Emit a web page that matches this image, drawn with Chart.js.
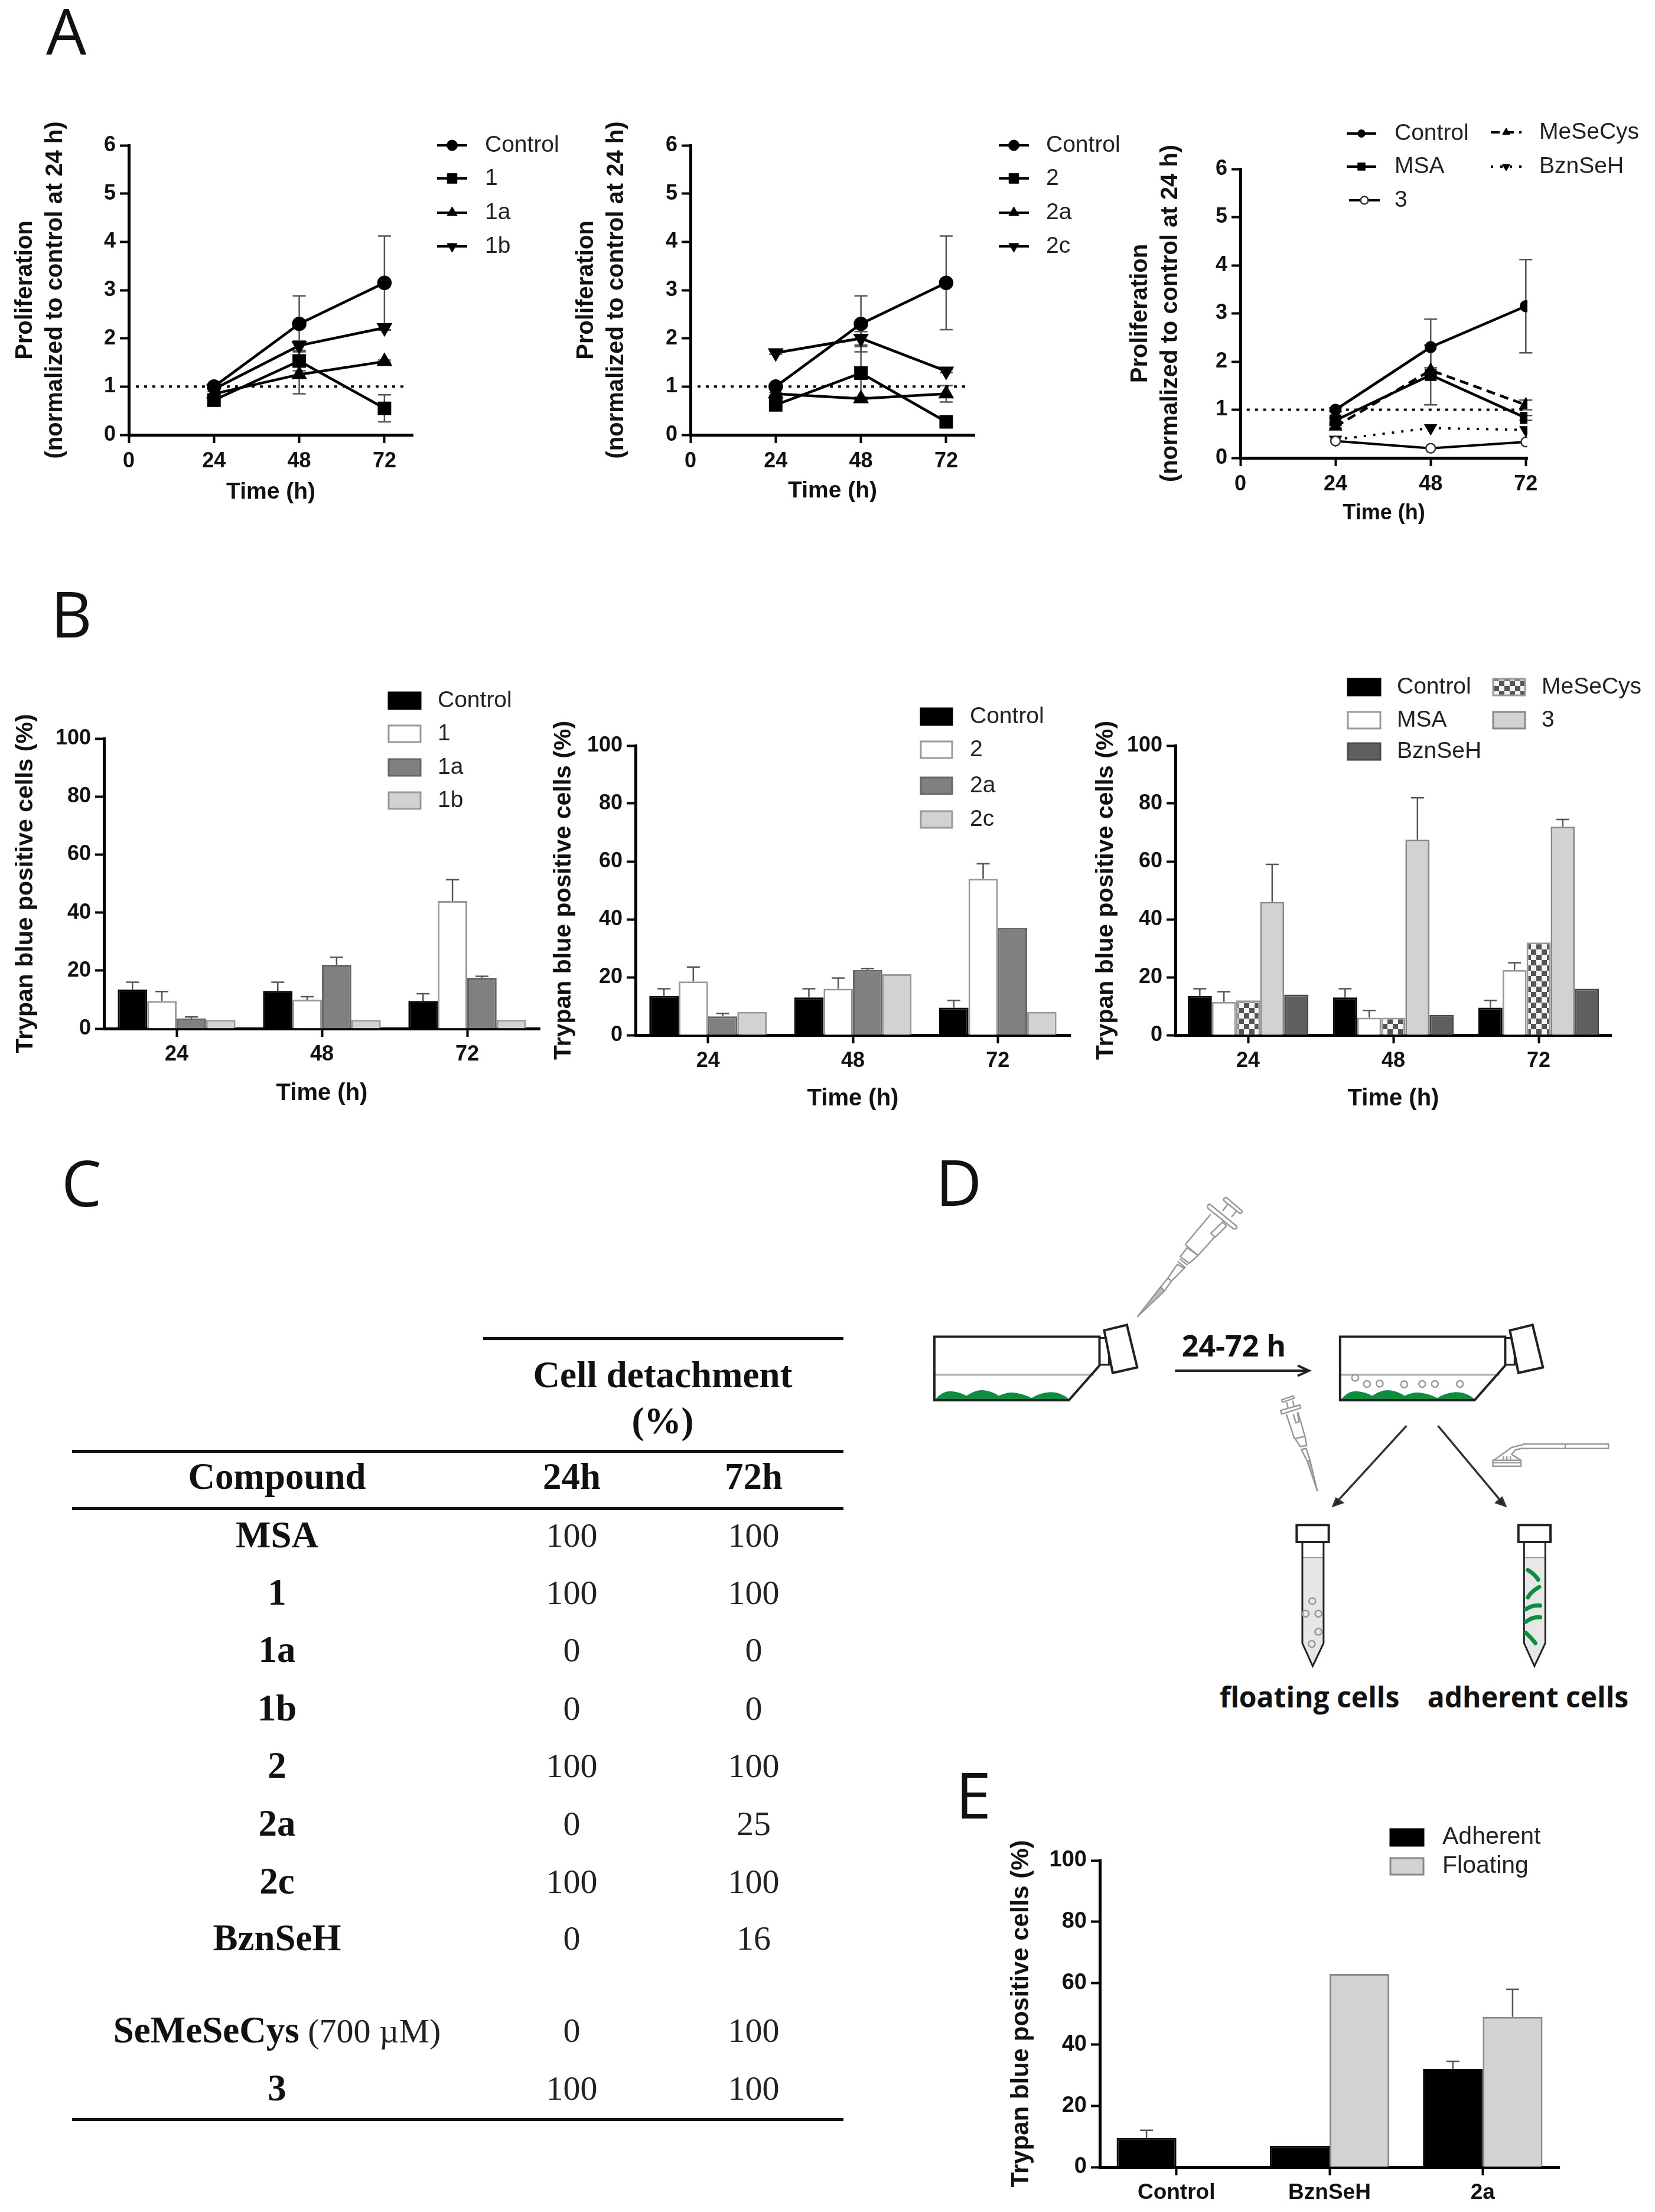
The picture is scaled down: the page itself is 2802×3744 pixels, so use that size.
<!DOCTYPE html>
<html>
<head>
<meta charset="utf-8">
<script src="https://cdn.jsdelivr.net/npm/chart.js@4"></script>
<style>
  html, body { margin: 0; background: #fff; }
  #page { position: relative; width: 2802px; height: 3744px; overflow: hidden; background: #fff; }
  canvas { position: absolute; }
  .letter { position: absolute; font: 108px "Open Sans"; color: #111; line-height: 1; }
  .cell { position: absolute; transform: translate(-50%, -50%); white-space: nowrap; font: 58px "Liberation Serif"; color: #222; }
  .cell.head { font-weight: bold; font-size: 63px; color: #111; }
  .rule { position: absolute; height: 5px; background: #111; }
  svg * { vector-effect: non-scaling-stroke; }
</style>
</head>
<body>
<div id="page">
  <div class="letter" style="left:78px;top:-2px">A</div>
  <div class="letter" style="left:86px;top:984px">B</div>
  <div class="letter" style="left:104px;top:1947px">C</div>
  <div class="letter" style="left:1584px;top:1946px">D</div>
  <div class="letter" style="left:1618px;top:2983px">E</div>

  <svg width="2802" height="3744" style="position:absolute;left:0;top:0">
    <defs>
      <g id="flask">
        <path d="M40 603H378" stroke="#aaa" stroke-width="3" fill="none"/>
        <path d="M42 670Q58 644 78 648Q94 650 108 660Q130 640 150 646Q166 650 176 660Q196 648 212 652Q232 656 246 666Q262 652 286 650Q310 650 326 670Z" fill="#0b8f3e" stroke="none"/>
        <path d="M40 500H390V578L325 672H40Z" fill="none" stroke="#222" stroke-width="4"/>
        <path d="M390 503H410V576H392" fill="none" stroke="#222" stroke-width="3"/>
        <path d="M400 483L448 468L470 583L418 598Z" fill="#fff" stroke="#222" stroke-width="4"/>
      </g>
      <g id="tube">
        <path d="M820 1098H865V1330L842 1392L820 1330Z" fill="#e6e8e8" stroke="none"/>
        <path d="M820 1098H865" stroke="#999" stroke-width="2"/>
        <path d="M820 1055V1330L842 1392L865 1330V1055" fill="none" stroke="#222" stroke-width="3"/>
        <rect x="808" y="1010" width="68" height="46" fill="#fff" stroke="#222" stroke-width="4"/>
      </g>
    </defs>
    <g transform="translate(1550 1950) scale(0.7987 0.6250)">
      <use href="#flask"/>
      <use href="#flask" x="860"/>
      <path d="M550 592H830" stroke="#222" stroke-width="4"/>
      <path d="M810 578L834 592L810 606" fill="none" stroke="#222" stroke-width="4"/>
      <g fill="none" stroke="#999" stroke-width="2.5">
        <ellipse cx="932" cy="611" rx="7" ry="9"/><ellipse cx="957" cy="628" rx="7" ry="9"/>
        <ellipse cx="984" cy="627" rx="7" ry="9"/><ellipse cx="1036" cy="629" rx="7" ry="9"/>
        <ellipse cx="1074" cy="628" rx="7" ry="9"/><ellipse cx="1101" cy="628" rx="7" ry="9"/>
        <ellipse cx="1154" cy="628" rx="7" ry="9"/>
      </g>
      <use href="#tube"/>
      <use href="#tube" x="470"/>
      <g fill="none" stroke="#999" stroke-width="2.5">
        <ellipse cx="841" cy="1216" rx="7" ry="9"/><ellipse cx="827" cy="1250" rx="7" ry="9"/>
        <ellipse cx="854" cy="1250" rx="7" ry="9"/><ellipse cx="854" cy="1299" rx="7" ry="9"/>
        <ellipse cx="840" cy="1332" rx="7" ry="9"/>
      </g>
      <g fill="none" stroke="#0b8f3e" stroke-width="7" stroke-linecap="round">
        <path d="M1298 1132Q1312 1142 1320 1158"/><path d="M1322 1178Q1305 1190 1298 1206"/>
        <path d="M1294 1238Q1308 1226 1324 1228"/><path d="M1294 1272Q1308 1258 1324 1260"/>
        <path d="M1294 1302Q1306 1316 1314 1330"/>
      </g>
    </g>
    <!-- large pipette -->
    <g transform="translate(1900 2000) scale(0.3333)" fill="none" stroke="#999" stroke-width="2.5" stroke-linejoin="round">
      <path d="M78 685L195 535L215 555Z" fill="#bbb"/>
      <path d="M195 535L232 490L250 505L215 555"/>
      <path d="M232 490L280 420L315 440L250 505"/>
      <path d="M282 405L322 438M292 392L332 425"/>
      <path d="M295 380L330 335L385 375L340 415Z"/>
      <path d="M320 320L450 165M385 375L470 280M320 320L385 375"/>
      <path d="M450 262L510 205L530 225L472 282Z"/>
      <path d="M445 115L580 225Q590 240 565 240L435 135Q430 115 445 115Z" fill="#fff"/>
      <path d="M510 150L538 110M555 180L580 150"/>
      <path d="M528 80L610 150Q605 165 595 160L515 95Q515 80 528 80Z" fill="#fff"/>
    </g>
    <!-- small pipette, scraper and the two arrows -->
    <g transform="translate(2150 2350) scale(0.3953 0.3333)">
      <g fill="none" stroke="#999" stroke-width="2.5" stroke-linejoin="round">
        <path d="M203 520L160 370L172 366Z" fill="#bbb"/>
        <path d="M160 370L135 310L155 305L172 366"/>
        <path d="M130 295L108 255L150 243L158 290Z"/>
        <path d="M70 130L105 255M120 120L150 243"/>
        <path d="M100 130L112 175L125 170L118 125"/>
        <path d="M46 112L128 84L132 100L50 130Z" fill="#fff"/>
        <path d="M78 102L72 70M104 92L98 62"/>
        <path d="M50 58L100 38L104 50L54 70Z" fill="#fff"/>
        <path d="M1085 283H1450V305H1085"/>
        <path d="M1265 283V305"/>
        <path d="M1085 285L1035 300L1000 330L958 365M1085 303L1052 312L1035 335L1075 365"/>
        <path d="M1000 345V365M1015 345V365M1030 345V365"/>
        <rect x="955" y="365" width="120" height="30"/>
        <path d="M955 377H1075"/>
      </g>
      <g stroke="#333" stroke-width="3.5" fill="#222">
        <path d="M585 190L276 590M720 190L1002 590"/>
        <path d="M272 596L284 560L310 580Z"/>
        <path d="M1008 596L970 580L994 556Z"/>
      </g>
    </g>
    <text x="2089" y="2296" text-anchor="middle" font-family="Open Sans" font-weight="700" font-size="50" fill="#111">24-72 h</text>
    <text x="2217" y="2890" text-anchor="middle" font-family="Open Sans" font-weight="700" font-size="48" fill="#111">floating cells</text>
    <text x="2587" y="2890" text-anchor="middle" font-family="Open Sans" font-weight="700" font-size="48" fill="#111">adherent cells</text>
  </svg>
</div>

<script>
// panel A values
const times = [24, 48, 72];
const timeTicks = [0, 24, 48, 72];
const prolifTicks = [0, 1, 2, 3, 4, 5, 6];
const control = [1, 2.3, 3.15];
const controlErr = [0.04, 0.58, 0.97];
const cmp1 = [0.72, 1.53, 0.55];
const cmp1Err = [0.12, 0.2, 0.28];
const cmp1a = [0.85, 1.25, 1.52];
const cmp1aErr = [0.1, 0.4, 0.03];
const cmp1b = [0.95, 1.85, 2.22];
const cmp1bErr = [0.05, 0.1, 0.05];
const cmp2 = [0.62, 1.28, 0.27];
const cmp2Err = [0.1, 0.55, 0.03];
const cmp2a = [0.85, 0.75, 0.85];
const cmp2aErr = [0.03, 0.03, 0.17];
const cmp2c = [1.7, 2, 1.32];
const cmp2cErr = [0.03, 0.14, 0.03];
const msa = [0.78, 1.72, 0.83];
const msaErr = [0.05, 0.62, 0.05];
const mesecys = [0.65, 1.82, 1.1];
const mesecysErr = [0.03, 0.05, 0.1];
const bznseh = [0.38, 0.62, 0.58];
const cmp3 = [0.35, 0.2, 0.33];
const dottedA = [2, 78];
const dottedC = [1.6, 71.5];

// panel B values
const pctTicks = [0, 20, 40, 60, 80, 100];
const hours = ['24', '48', '72'];
const deadControl = [13.5, 13, 9.5];
const deadControlErr = [2.5, 3, 2.5];
const dead1 = [9.5, 10, 44];
const dead1Err = [3.3, 1, 7.3];
const dead1a = [3.5, 22, 17.5];
const dead1aErr = [0.5, 2.6, 0.5];
const dead1b = [3, 3, 3];
const dead2 = [18.5, 16, 54];
const dead2Err = [5, 3.7, 5.2];
const dead2a = [6.5, 22.5, 37];
const dead2aErr = [1, 0.5, 0];
const dead2c = [8, 21, 8];
const deadMsa = [11.5, 6, 22.5];
const deadMsaErr = [3.5, 2.5, 2.5];
const deadMe = [12, 6, 32];
const dead3 = [46, 67.5, 72];
const dead3Err = [13, 14.5, 2.5];
const deadBzn = [14, 7, 16];

// panel E values
const groupsE = ['Control', 'BznSeH', '2a'];
const adherent = [9.5, 7, 32];
const adherentErr = [2.5, 0, 2.5];
const floating = [0, 63, 49];
const floatingErr = [0, 0, 9];

// panel C table
const compounds = ['MSA', '1', '1a', '1b', '2', '2a', '2c', 'BznSeH', 'SeMeSeCys', '3'];
const compoundNotes = ['', '', '', '', '', '', '', '', ' (700 µM)', ''];
const detach24 = [100, 100, 0, 0, 100, 0, 100, 0, 0, 100];
const detach72 = [100, 100, 0, 0, 100, 25, 100, 16, 100, 100];

// layout for the table, page pixels
const rowCentres = [2598, 2695, 2792, 2891, 2988, 3086, 3184, 3280, 3436, 3534];
const colCentres = [469, 968, 1276];
const rules = [[818, 2263, 610], [122, 2454, 1306], [122, 2551, 1306], [122, 3585, 1306]];

const page = document.getElementById('page');
const FONT = 'Liberation Sans';

function addText(x, y, text, isHead, note) {
  const el = document.createElement('div');
  el.className = 'cell' + (isHead ? ' head' : '');
  el.style.left = x + 'px';
  el.style.top = y + 'px';
  el.textContent = text;
  if (note) {
    const s = document.createElement('span');
    s.style.cssText = 'font-weight:normal;font-size:58px;color:#222';
    s.textContent = note;
    el.appendChild(s);
  }
  page.appendChild(el);
}

rules.forEach(r => {
  const el = document.createElement('div');
  el.className = 'rule';
  el.style.cssText = `left:${r[0]}px;top:${r[1]}px;width:${r[2]}px`;
  page.appendChild(el);
});
addText(1122, 2327, 'Cell detachment', true);
addText(1122, 2405, '(%)', true);
addText(colCentres[0], 2499, 'Compound', true);
addText(colCentres[1], 2499, '24h', true);
addText(colCentres[2], 2499, '72h', true);
compounds.forEach((c, i) => {
  addText(colCentres[0], rowCentres[i], c, true, compoundNotes[i]);
  addText(colCentres[1], rowCentres[i], String(detach24[i]));
  addText(colCentres[2], rowCentres[i], String(detach72[i]));
});

function checker() {
  const c = document.createElement('canvas');
  c.width = 18; c.height = 18;
  const x = c.getContext('2d');
  x.fillStyle = '#f4f4f4';
  x.fillRect(0, 0, 18, 18);
  x.fillStyle = '#555';
  x.fillRect(0, 0, 9, 9);
  x.fillRect(9, 9, 9, 9);
  return x.createPattern(c, 'repeat');
}

function lineSet(label, values, errors, pointStyle, radius, extra) {
  return Object.assign({
    label,
    errors,
    data: times.map((t, i) => ({ x: t, y: values[i] })),
    borderColor: '#000',
    backgroundColor: '#000',
    borderWidth: 4.5,
    pointStyle,
    pointRadius: radius,
    pointHoverRadius: radius,
    pointBorderColor: '#000',
    pointBackgroundColor: '#000',
    tension: 0
  }, extra);
}

function dottedSet(span) {
  return {
    data: span.map(x => ({ x, y: 1 })),
    borderColor: '#000',
    borderWidth: 4,
    borderDash: [5, 9],
    pointRadius: 0,
    tension: 0
  };
}

function barSet(label, values, errors, fill, edge) {
  return { label, errors, data: values, backgroundColor: fill, borderColor: edge, borderWidth: 3 };
}

// error bars, placed through the chart's own scales
function errorBars(both) {
  return {
    id: 'errorBars',
    beforeDatasetsDraw(chart) {
      const ctx = chart.ctx;
      const y = chart.scales.y;
      ctx.save();
      ctx.strokeStyle = '#555';
      ctx.lineWidth = 2.5;
      chart.data.datasets.forEach((ds, i) => {
        if (!ds.errors) return;
        const meta = chart.getDatasetMeta(i);
        ds.errors.forEach((e, j) => {
          if (!e) return;
          const v = typeof ds.data[j] === 'object' ? ds.data[j].y : ds.data[j];
          const px = meta.data[j].x;
          const top = y.getPixelForValue(v + e);
          const low = y.getPixelForValue(both ? v - e : v);
          ctx.beginPath();
          ctx.moveTo(px, low); ctx.lineTo(px, top);
          ctx.moveTo(px - 11, top); ctx.lineTo(px + 11, top);
          if (both) { ctx.moveTo(px - 11, low); ctx.lineTo(px + 11, low); }
          ctx.stroke();
        });
      });
      ctx.restore();
    }
  };
}

// legend rows: [dataset index, sample left, sample right, text x, centre y] in page pixels
function legendAt(box, rows, fontSize, markerScale) {
  return {
    id: 'legendAt',
    afterDraw(chart) {
      const ctx = chart.ctx;
      ctx.save();
      ctx.translate(-box.l, -box.t);
      ctx.font = fontSize + 'px "' + FONT + '"';
      ctx.textBaseline = 'middle';
      rows.forEach(r => {
        const ds = chart.data.datasets[r[0]];
        const cy = r[4];
        if (ds.pointStyle) {
          ctx.strokeStyle = '#000';
          ctx.lineWidth = 4;
          ctx.setLineDash(ds.borderDash || []);
          ctx.beginPath();
          ctx.moveTo(r[1], cy); ctx.lineTo(r[2], cy);
          ctx.stroke();
          ctx.setLineDash([]);
          ctx.fillStyle = ds.pointBackgroundColor;
          ctx.strokeStyle = ds.pointBorderColor;
          ctx.lineWidth = ds.pointBorderWidth || 1;
          Chart.helpers.drawPoint(ctx, {
            pointStyle: ds.pointStyle,
            radius: ds.pointRadius * markerScale,
            rotation: ds.pointRotation || 0,
            borderWidth: ctx.lineWidth
          }, (r[1] + r[2]) / 2, cy);
        } else {
          ctx.fillStyle = ds.backgroundColor;
          ctx.fillRect(r[1], cy - 14, r[2] - r[1], 28);
          ctx.strokeStyle = ds.borderColor;
          ctx.lineWidth = 3;
          ctx.strokeRect(r[1], cy - 14, r[2] - r[1], 28);
        }
        ctx.fillStyle = '#222';
        ctx.fillText(ds.label, r[3], cy);
      });
      ctx.restore();
    }
  };
}

function addChart(box, plot, type, datasets, xScale, tickValues, yMax, yTitle, title, plugins) {
  const canvas = document.createElement('canvas');
  const w = box.r - box.l;
  const h = box.b - box.t;
  canvas.width = w;
  canvas.height = h;
  canvas.style.cssText = `left:${box.l}px;top:${box.t}px;width:${w}px;height:${h}px`;
  page.appendChild(canvas);

  return new Chart(canvas, {
    type,
    data: { labels: xScale.labels, datasets },
    plugins,
    options: {
      responsive: false,
      devicePixelRatio: 1,
      animation: false,
      layout: { padding: { left: 0, bottom: 0, top: plot.t - box.t, right: box.r - plot.r } },
      plugins: { legend: { display: false }, tooltip: { enabled: false } },
      scales: {
        x: Object.assign({
          afterFit: s => { s.height = box.b - plot.b; },
          border: { width: 5, color: '#000' },
          grid: { drawOnChartArea: false, tickLength: 14, tickWidth: 4, tickColor: '#000', offset: false },
          ticks: { color: '#111', padding: title.xTickPad, maxRotation: 0, autoSkip: false,
            font: { family: FONT, size: title.xTickSize, weight: 'bold' } },
          title: { display: !!title.x, text: title.x, color: '#111', padding: { top: 0, bottom: title.xPad },
            font: { family: FONT, size: title.xSize, weight: 'bold', lineHeight: 1.2 } }
        }, xScale.opts),
        y: {
          min: 0,
          max: yMax,
          afterFit: s => { s.width = plot.l - box.l; },
          afterBuildTicks: s => { s.ticks = tickValues.map(v => ({ value: v })); },
          border: { width: 5, color: '#000' },
          grid: { drawOnChartArea: false, tickLength: 15, tickWidth: 4, tickColor: '#000' },
          ticks: { color: '#111', padding: 7, font: { family: FONT, size: title.yTickSize, weight: 'bold' } },
          title: { display: true, text: yTitle, color: '#111', padding: { top: title.yPad, bottom: 0 },
            font: { family: FONT, size: title.ySize, weight: 'bold', lineHeight: title.yLine } }
        }
      }
    }
  });
}

const prolifTitle = ['Proliferation', '(normalized to control at 24 h)'];
const pctTitle = 'Trypan blue positive cells (%)';

function linearTime(max) {
  return { opts: {
    type: 'linear', min: 0, max,
    afterBuildTicks: s => { s.ticks = timeTicks.map(v => ({ value: v })); }
  } };
}

// A, left
const boxA1 = { l: 15, t: 190, r: 965, b: 870 };
addChart(boxA1, { l: 218, t: 246, r: 699, b: 736 }, 'line', [
  lineSet('Control', control, controlErr, 'circle', 10),
  lineSet('1', cmp1, cmp1Err, 'rect', 13),
  lineSet('1a', cmp1a, cmp1aErr, 'triangle', 11),
  lineSet('1b', cmp1b, cmp1bErr, 'triangle', 11, { pointRotation: 180 }),
  dottedSet(dottedA)
], linearTime(80), prolifTicks, 6, prolifTitle,
  { x: 'Time (h)', xSize: 39, xPad: 13, xTickSize: 36, xTickPad: 9, yTickSize: 36, yPad: 2.5, ySize: 40, yLine: 1.275 },
  [errorBars(true), legendAt(boxA1, [
    [0, 740, 791, 821, 246], [1, 740, 791, 821, 302], [2, 740, 791, 821, 360], [3, 740, 791, 821, 417]
  ], 39, 0.9)]);

// A, middle
const boxA2 = { l: 965, t: 190, r: 1950, b: 870 };
addChart(boxA2, { l: 1169, t: 246, r: 1650, b: 736 }, 'line', [
  lineSet('Control', control, controlErr, 'circle', 10),
  lineSet('2', cmp2, cmp2Err, 'rect', 13),
  lineSet('2a', cmp2a, cmp2aErr, 'triangle', 11),
  lineSet('2c', cmp2c, cmp2cErr, 'triangle', 11, { pointRotation: 180 }),
  dottedSet(dottedA)
], linearTime(80), prolifTicks, 6, prolifTitle,
  { x: 'Time (h)', xSize: 39, xPad: 15, xTickSize: 36, xTickPad: 9, yTickSize: 36, yPad: 2.5, ySize: 40, yLine: 1.275 },
  [errorBars(true), legendAt(boxA2, [
    [0, 1691, 1742, 1771, 246], [1, 1691, 1742, 1771, 302], [2, 1691, 1742, 1771, 360], [3, 1691, 1742, 1771, 417]
  ], 39, 0.9)]);

// A, right
const boxA3 = { l: 1905, t: 195, r: 2800, b: 910 };
addChart(boxA3, { l: 2100, t: 286, r: 2586, b: 775 }, 'line', [
  lineSet('Control', control, controlErr, 'circle', 8),
  lineSet('MSA', msa, msaErr, 'rect', 11),
  lineSet('3', cmp3, null, 'circle', 8, { pointBackgroundColor: '#fff', pointBorderColor: '#333', pointBorderWidth: 2.5, borderWidth: 4 }),
  lineSet('MeSeCys', mesecys, mesecysErr, 'triangle', 9, { borderDash: [15, 9] }),
  lineSet('BznSeH', bznseh, null, 'triangle', 9, { pointRotation: 180, borderDash: [4, 12], borderWidth: 4 }),
  dottedSet(dottedC)
], linearTime(72.4), prolifTicks, 6, prolifTitle,
  { x: 'Time (h)', xSize: 36, xPad: 19, xTickSize: 36, xTickPad: 9, yTickSize: 36, yPad: 0.5, ySize: 40, yLine: 1.275 },
  [errorBars(true), legendAt(boxA3, [
    [0, 2280, 2330, 2361, 226], [1, 2280, 2330, 2361, 282], [2, 2284, 2336, 2361, 339],
    [3, 2524, 2576, 2606, 224], [4, 2524, 2576, 2606, 282]
  ], 39, 0.8)]);

const BLACK = '#000';
const WHITE = '#fff';
const MID = '#808080';
const PALE = '#d2d2d2';
const barAxis = { offset: true };

function withWidth(sets, pct) {
  sets.forEach(s => { s.barPercentage = 1; s.categoryPercentage = pct; });
  return sets;
}

// B, left
const boxB1 = { l: 15, t: 1150, r: 960, b: 1880 };
addChart(boxB1, { l: 176, t: 1250, r: 914, b: 1741 }, 'bar', withWidth([
  barSet('Control', deadControl, deadControlErr, BLACK, BLACK),
  barSet('1', dead1, dead1Err, WHITE, '#999'),
  barSet('1a', dead1a, dead1aErr, MID, '#666'),
  barSet('1b', dead1b, null, PALE, '#999')
], 0.81), { labels: hours, opts: barAxis }, pctTicks, 100, pctTitle,
  { x: 'Time (h)', xSize: 40, xPad: 5.4, xTickSize: 36, xTickPad: 8, yTickSize: 36, yPad: 4.4, ySize: 41, yLine: 1.2 },
  [errorBars(false), legendAt(boxB1, [
    [0, 658, 712, 741, 1186], [1, 658, 712, 741, 1242], [2, 658, 712, 741, 1299], [3, 658, 712, 741, 1355]
  ], 39, 1)]);

// B, middle
const boxB2 = { l: 925, t: 1170, r: 1860, b: 1890 };
addChart(boxB2, { l: 1076, t: 1262, r: 1812, b: 1752 }, 'bar', withWidth([
  barSet('Control', deadControl, deadControlErr, BLACK, BLACK),
  barSet('2', dead2, dead2Err, WHITE, '#999'),
  barSet('2a', dead2a, dead2aErr, MID, '#666'),
  barSet('2c', dead2c, null, PALE, '#999')
], 0.81), { labels: hours, opts: barAxis }, pctTicks, 100, pctTitle,
  { x: 'Time (h)', xSize: 40, xPad: 6, xTickSize: 36, xTickPad: 8, yTickSize: 36, yPad: 5.4, ySize: 41, yLine: 1.2 },
  [errorBars(false), legendAt(boxB2, [
    [0, 1559, 1612, 1642, 1213], [1, 1559, 1612, 1642, 1269], [2, 1559, 1612, 1642, 1330], [3, 1559, 1612, 1642, 1387]
  ], 39, 1)]);

// B, right
const boxB3 = { l: 1845, t: 1130, r: 2800, b: 1890 };
addChart(boxB3, { l: 1990, t: 1262, r: 2728, b: 1752 }, 'bar', withWidth([
  barSet('Control', deadControl, deadControlErr, BLACK, BLACK),
  barSet('MSA', deadMsa, deadMsaErr, WHITE, '#999'),
  barSet('MeSeCys', deadMe, null, checker(), '#999'),
  barSet('3', dead3, dead3Err, PALE, '#888'),
  barSet('BznSeH', deadBzn, null, '#5f5f5f', '#4a4a4a')
], 0.83), { labels: hours, opts: barAxis }, pctTicks, 100, pctTitle,
  { x: 'Time (h)', xSize: 40, xPad: 6, xTickSize: 36, xTickPad: 8, yTickSize: 36, yPad: 3.4, ySize: 41, yLine: 1.2 },
  [errorBars(false), legendAt(boxB3, [
    [0, 2282, 2337, 2365, 1163], [1, 2282, 2337, 2365, 1219], [4, 2282, 2337, 2365, 1272],
    [2, 2528, 2582, 2610, 1163], [3, 2528, 2582, 2610, 1219]
  ], 39, 1)]);

// E
const boxE = { l: 1700, t: 3080, r: 2700, b: 3744 };
addChart(boxE, { l: 1862, t: 3149, r: 2640, b: 3668 }, 'bar', withWidth([
  barSet('Adherent', adherent, adherentErr, BLACK, BLACK),
  barSet('Floating', floating, floatingErr, PALE, '#888')
], 0.78), { labels: groupsE, opts: barAxis }, pctTicks, 100, pctTitle,
  { x: '', xSize: 38, xPad: 0, xTickSize: 37, xTickPad: 8, yTickSize: 38, yPad: 4, ySize: 42, yLine: 1.2 },
  [errorBars(false), legendAt(boxE, [
    [0, 2354, 2410, 2442, 3110], [1, 2354, 2410, 2442, 3159]
  ], 41, 1)]);
</script>
</body>
</html>
